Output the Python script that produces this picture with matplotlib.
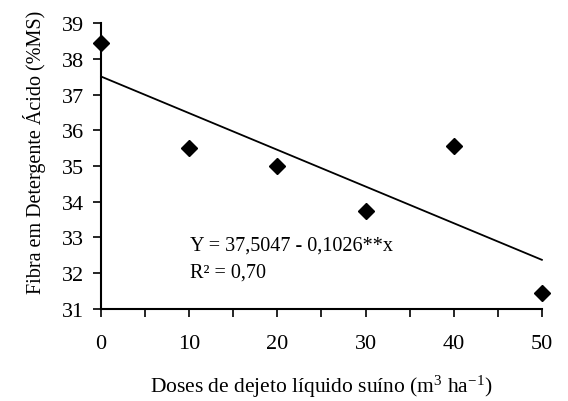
import matplotlib
matplotlib.use("Agg")
import matplotlib.pyplot as plt
import numpy as np

doses = [0, 10, 20, 30, 40, 50]
fda = [38.45, 35.5, 35.0, 33.75, 35.55, 31.45]
intercept = 37.5047
slope = -0.1026

plt.rcParams["font.family"] = "Liberation Serif"
plt.rcParams["mathtext.fontset"] = "custom"
plt.rcParams["mathtext.rm"] = "Liberation Serif"
plt.rcParams["mathtext.it"] = "Liberation Serif:italic"

fig = plt.figure(figsize=(5.68, 4.02), dpi=100)
ax = fig.add_axes([0.178, 0.229, 0.776, 0.711])

xs = np.array([0, 50])
ax.plot(xs, intercept + slope * xs, color="black", lw=1.3, clip_on=False)
ax.plot(doses, fda, "D", color="black", markersize=8, clip_on=False)

ax.set_xlim(0, 50)
ax.set_ylim(31, 39)
ax.set_xticks(range(0, 51, 10))
ax.set_xticks(range(5, 50, 10), minor=True)
ax.set_yticks(range(31, 40))
for s in ["top", "right"]:
    ax.spines[s].set_visible(False)
for s in ["left", "bottom"]:
    ax.spines[s].set_linewidth(1.5)
ax.tick_params(axis="both", which="both", direction="out", width=1.2, length=6,
               labelsize=16, colors="black", pad=6)
ax.tick_params(axis="x", which="both", pad=12)

ax.text(10.1, 32.8, "Y = 37,5047 - 0,1026**x", fontsize=14.5, va="center")
ax.text(10.1, 32.03, "R\u00b2 = 0,70", fontsize=14.5, va="center")

ax.set_ylabel("Fibra em Detergente Ácido (%MS)", fontsize=14.5)
ax.yaxis.set_label_coords(-0.125, 0.55)
ax.set_xlabel("Doses de dejeto líquido suíno (m$^3$ ha$^{-1}$)", fontsize=15.5, labelpad=14)

fig.savefig("out.png", dpi=100)
